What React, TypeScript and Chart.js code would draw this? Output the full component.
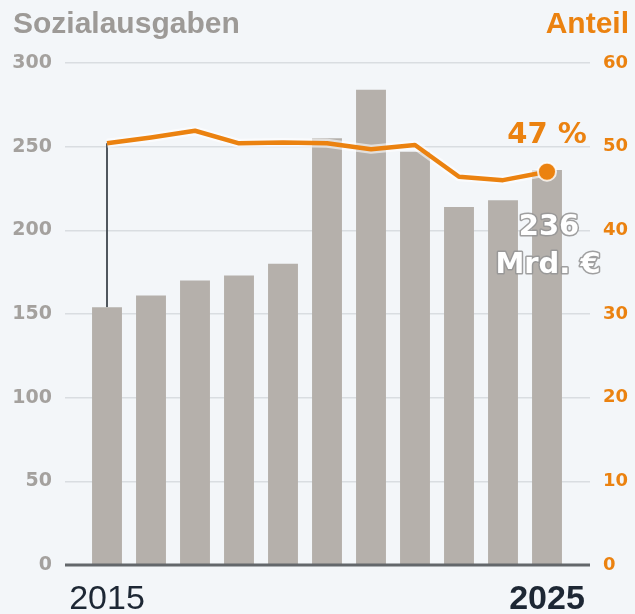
import React, { useEffect, useRef } from "react";
import { Chart, registerables } from "chart.js";

Chart.register(...registerables);

const years = ["2015", "2016", "2017", "2018", "2019", "2020", "2021", "2022", "2023", "2024", "2025"];
const spending = [154, 161, 170, 173, 180, 255, 284, 247, 214, 218, 236];
const share = [50.4, 51.1, 51.9, 50.4, 50.5, 50.4, 49.7, 50.2, 46.4, 46.0, 47.0];
const leftTitle = "Sozialausgaben";
const rightTitle = "Anteil";
const shareLabel = "47 %";
const valueLabel = ["236", "Mrd. €"];

const BG = "#f3f6f9";
const BAR = "#b5b0ab";
const ORANGE = "#eb8210";
const GRID = "#d9dde1";
const TICK_GRAY = "#a4a19e";
const TITLE_GRAY = "#9d9a97";
const DARK = "#1d2734";
const ZERO = "#63676b";

const overlay = {
  id: "overlay",
  beforeDatasetsDraw(chart: any) {
    const { ctx, scales } = chart;
    const x = scales.x.getPixelForValue(0);
    const yTop = scales.y1.getPixelForValue(share[0]);
    const yBot = scales.y.getPixelForValue(spending[0]);
    ctx.save();
    ctx.strokeStyle = "#50575e";
    ctx.lineWidth = 2;
    ctx.beginPath();
    ctx.moveTo(x, yTop);
    ctx.lineTo(x, yBot);
    ctx.stroke();
    ctx.restore();
  },
  afterDatasetsDraw(chart: any) {
    const { ctx, scales, chartArea } = chart;
    const last = years.length - 1;
    const x = scales.x.getPixelForValue(last);
    const yZero = scales.y.getPixelForValue(0);
    ctx.save();
    // zero line
    ctx.strokeStyle = ZERO;
    ctx.lineWidth = 3;
    ctx.beginPath();
    ctx.moveTo(chartArea.left - 20, yZero);
    ctx.lineTo(chartArea.right + 21, yZero);
    ctx.stroke();

    // titles
    ctx.textBaseline = "alphabetic";
    ctx.font = "bold 30px 'Liberation Sans', Arial, sans-serif";
    ctx.fillStyle = TITLE_GRAY;
    ctx.textAlign = "left";
    ctx.fillText(leftTitle, 13, 33);
    ctx.fillStyle = ORANGE;
    ctx.textAlign = "right";
    ctx.fillText(rightTitle, 629, 33);

    // 47 %
    const yShare = scales.y1.getPixelForValue(share[last]);
    ctx.font = "bold 29px 'DejaVu Sans', sans-serif";
    ctx.textAlign = "center";
    ctx.fillStyle = ORANGE;
    ctx.fillText(shareLabel, x, yShare - 29);

    // 236 Mrd. €
    const yBar = scales.y.getPixelForValue(spending[last]);
    ctx.font = "bold 29px 'DejaVu Sans', sans-serif";
    ctx.lineJoin = "round";
    ctx.strokeStyle = "rgba(150,150,150,0.9)";
    ctx.lineWidth = 3;
    ctx.fillStyle = "#ffffff";
    ctx.strokeText(valueLabel[0], x + 2, yBar + 65);
    ctx.fillText(valueLabel[0], x + 2, yBar + 65);
    ctx.strokeText(valueLabel[1], x + 1, yBar + 103);
    ctx.fillText(valueLabel[1], x + 1, yBar + 103);
    ctx.restore();
  },
};

export default function App() {
  const ref = useRef<HTMLCanvasElement | null>(null);

  useEffect(() => {
    if (!ref.current) return;
    const last = years.length - 1;
    const chart = new Chart(ref.current, {
      type: "bar",
      data: {
        labels: years,
        datasets: [
          {
            type: "line",
            label: "Anteil",
            data: share,
            yAxisID: "y1",
            borderColor: ORANGE,
            borderWidth: 4.5,
            tension: 0,
            pointRadius: (c: any) => (c.dataIndex === last ? 9 : 0),
            pointBackgroundColor: ORANGE,
            pointBorderColor: "rgba(255,255,255,0.8)",
            pointBorderWidth: 2,
            borderJoinStyle: "round",
            order: 1,
          } as any,
          {
            type: "line",
            label: "halo",
            data: share,
            yAxisID: "y1",
            borderColor: "rgba(255,255,255,0.6)",
            borderWidth: 9,
            tension: 0,
            pointRadius: 0,
            borderJoinStyle: "round",
            order: 2,
          } as any,
          {
            type: "bar",
            label: "Sozialausgaben",
            data: spending,
            yAxisID: "y",
            backgroundColor: BAR,
            barPercentage: 0.68,
            categoryPercentage: 1,
            order: 3,
          },
        ],
      },
      options: {
        responsive: false,
        animation: false,
        devicePixelRatio: 1,
        layout: { padding: { top: 63, left: 0, right: 0, bottom: 0 } },
        plugins: {
          legend: { display: false },
          tooltip: { enabled: false },
        },
        scales: {
          x: {
            offset: true,
            grid: { display: false },
            border: { display: false },
            afterFit: (s: any) => {
              s.height = 49;
            },
            ticks: {
              autoSkip: false,
              maxRotation: 0,
              padding: 6,
              color: DARK,
              font: (c: any) => ({
                family: "'Liberation Sans', Arial, sans-serif",
                size: 34,
                weight: c.index === last ? "bold" : "normal",
              }),
              callback: (_v: any, i: number) => (i === 0 || i === last ? years[i] : ""),
            },
          },
          y: {
            position: "left",
            min: 0,
            max: 300,
            afterFit: (s: any) => {
              s.width = 85;
            },
            border: { display: false },
            grid: {
              color: (c: any) => (c.tick && c.tick.value === 0 ? "rgba(0,0,0,0)" : GRID),
              lineWidth: 1.5,
              drawTicks: true,
              tickLength: 20,
            },
            ticks: {
              stepSize: 50,
              padding: 13,
              color: TICK_GRAY,
              font: { family: "'DejaVu Sans', sans-serif", size: 19, weight: "bold" },
            },
          },
          y1: {
            position: "right",
            min: 0,
            max: 60,
            afterFit: (s: any) => {
              s.width = 66;
            },
            border: { display: false },
            grid: {
              drawOnChartArea: false,
              color: (c: any) => (c.tick && c.tick.value === 0 ? "rgba(0,0,0,0)" : GRID),
              lineWidth: 1.5,
              drawTicks: true,
              tickLength: 21,
            },
            ticks: {
              stepSize: 10,
              padding: 13,
              color: ORANGE,
              font: { family: "'DejaVu Sans', sans-serif", size: 18, weight: "bold" },
            },
          },
        },
      },
      plugins: [overlay],
    } as any);
    return () => chart.destroy();
  }, []);

  return (
    <div
      style={{
        position: "absolute",
        left: 0,
        top: 0,
        width: 635,
        height: 614,
        background: BG,
        overflow: "hidden",
      }}
    >
      <canvas ref={ref} width={635} height={614} style={{ display: "block" }} />
    </div>
  );
}
